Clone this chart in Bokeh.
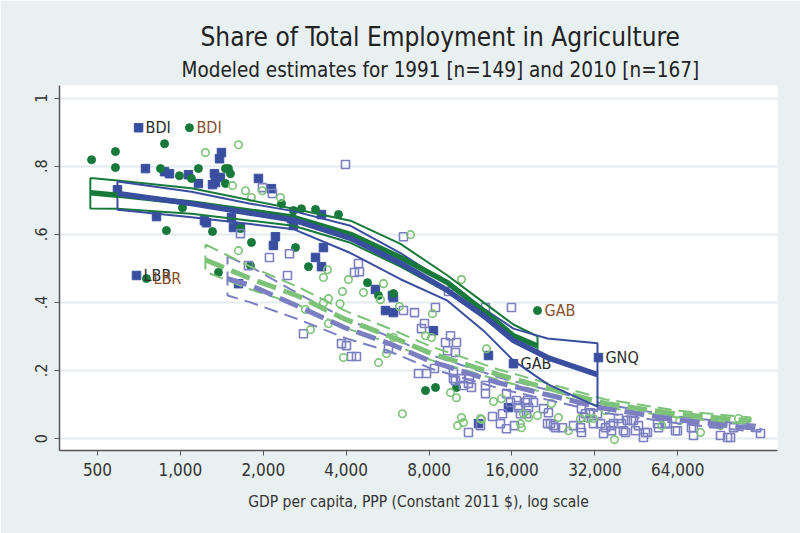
from bokeh.plotting import figure
from bokeh.models import (FixedTicker, NumeralTickFormatter, Title, CustomJSTickFormatter)
from bokeh.embed import file_html
from bokeh.resources import INLINE
from bokeh.core.properties import value

FONT = "DejaVu Sans Condensed, Liberation Sans, sans-serif"

# ---------------- data ----------------
# blue filled squares
ssa91_gdp = [705, 747, 876, 913, 1070, 1163, 1410, 1387, 1330, 1308, 1341, 1398, 591, 819, 1223,
             1533, 1559, 1244, 1653, 1921, 2141, 2214, 2177, 2531, 2574, 693, 3254, 3308, 3095, 3254,
             5109, 5889, 5939, 5556, 5939, 8299, 13143, 16200, 32970, 15537, 12091, 1626]
ssa91_share = [0.913, 0.793, 0.784, 0.778, 0.775, 0.749, 0.840, 0.822, 0.778, 0.746, 0.752, 0.767, 0.731,
               0.652, 0.640, 0.649, 0.620, 0.634, 0.620, 0.764, 0.734, 0.593, 0.567, 0.646, 0.626, 0.479,
               0.658, 0.561, 0.532, 0.505, 0.438, 0.420, 0.414, 0.376, 0.370, 0.317, 0.244, 0.220, 0.238,
               0.091, 0.044, 0.455]
# green filled circles
ssa10_gdp = [1079, 476, 581, 581, 876, 847, 992, 1163, 1097, 1458, 1495, 1520, 1458, 890, 1308, 1018,
             1653, 1812, 2329, 2574, 2618, 1375, 753, 1797, 2752, 3095, 3751, 2918, 4780, 5939, 5242,
             7763, 8439, 10060, 19804]
ssa10_share = [0.913, 0.819, 0.843, 0.796, 0.866, 0.793, 0.772, 0.793, 0.764, 0.793, 0.793, 0.778, 0.749,
               0.611, 0.608, 0.678, 0.617, 0.576, 0.690, 0.670, 0.561, 0.488, 0.470, 0.508, 0.675, 0.673,
               0.658, 0.505, 0.458, 0.426, 0.420, 0.141, 0.150, 0.150, 0.376]
# purple hollow squares
row91_gdp = [1986, 2159, 1653, 2106, 2448, 2490, 1767, 3977, 6458, 4432, 4287, 4469, 2799, 3846, 4010,
             4181, 4359, 5697, 7697, 7507, 9176, 9566, 10060, 9973, 7322, 7828, 8369, 9973, 10666, 11402,
             11120, 9808, 12818, 12818, 15279, 15798, 16612, 17913, 18366, 16892, 18062, 13593, 14775,
             14530, 15279, 16335, 15929, 12818, 6458, 7082, 8439, 9408, 9330, 10403, 9808, 11213, 11120,
             12295, 16892, 18212, 17178, 19150, 21530, 22638, 24400, 26760, 28370, 29090, 30840, 32700,
             31620, 33540, 36460, 37380, 40640, 42020, 44190, 46070, 49660, 48030, 54010, 58730, 63830,
             72970, 72970, 91450, 97010, 127800, 86290, 102000, 20822, 21710, 22076, 23018, 28610, 34970,
             36770, 34390, 38980, 39970, 43460, 41330, 44930, 48830, 54460, 57760, 62780, 71760, 99460,
             28610, 29580]
row91_share = [0.737, 0.720, 0.602, 0.532, 0.479, 0.543, 0.508, 0.805, 0.593, 0.514, 0.488, 0.490, 0.308,
               0.279, 0.273, 0.241, 0.241, 0.264, 0.338, 0.323, 0.282, 0.302, 0.282, 0.253, 0.191, 0.191,
               0.206, 0.170, 0.156, 0.150, 0.162, 0.194, 0.156, 0.132, 0.132, 0.106, 0.112, 0.106, 0.091,
               0.091, 0.073, 0.065, 0.073, 0.044, 0.029, 0.038, 0.385, 0.385, 0.376, 0.370, 0.385, 0.432,
               0.258, 0.176, 0.176, 0.176, 0.018, 0.038, 0.097, 0.112, 0.073, 0.106, 0.044, 0.038, 0.032,
               0.038, 0.032, 0.062, 0.076, 0.073, 0.044, 0.044, 0.038, 0.044, 0.023, 0.053, 0.053, 0.038,
               0.018, 0.003, 0.044, 0.044, 0.023, 0.032, 0.009, 0.009, 0.003, 0.015, 0.044, 0.032, 0.088,
               0.076, 0.044, 0.032, 0.018, 0.032, 0.023, 0.015, 0.059, 0.044, 0.053, 0.018, 0.023, 0.018,
               0.032, 0.044, 0.023, 0.032, 0.003, 0.088, 0.073]
# light green hollow circles
row10_gdp = [1626, 1233, 1546, 1723, 1812, 1986, 2309, 1626, 6850, 3421, 3308, 10490, 4077, 5465, 3878,
             4622, 5330, 6246, 8230, 2967, 3449, 2846, 3308, 3910, 5242, 5603, 5939, 8164, 12925, 7763,
             9566, 10060, 13708, 14652, 10490, 10666, 12398, 17323, 17616, 6404, 10145, 12295, 17178,
             18366, 19804, 28370, 31620, 37700, 77390, 22262, 23600, 25670, 30330, 34970, 106300, 3800,
             3449, 56000, 65000, 91450]
row10_share = [0.863, 0.840, 0.743, 0.728, 0.708, 0.728, 0.708, 0.552, 0.599, 0.496, 0.473, 0.467, 0.467,
               0.455, 0.432, 0.429, 0.408, 0.388, 0.367, 0.320, 0.338, 0.379, 0.399, 0.238, 0.223, 0.250,
               0.297, 0.297, 0.264, 0.302, 0.135, 0.120, 0.109, 0.117, 0.062, 0.047, 0.056, 0.032, 0.073,
               0.073, 0.038, 0.059, 0.044, 0.062, 0.068, 0.059, 0.059, -0.003, 0.018, 0.103, 0.062, 0.023,
               0.059, 0.082, 0.059, 0.396, 0.411, 0.038, 0.053, 0.038]

# labelled countries
lab_sq_gdp = [705, 693, 16200, 32970]
lab_sq_share = [0.913, 0.479, 0.220, 0.238]
lab_sq_text = ["BDI", "LBR", "GAB", "GNQ"]
lab_ci_gdp = [1079, 753, 19804]
lab_ci_share = [0.913, 0.470, 0.376]
lab_ci_text = ["BDI", "LBR", "GAB"]

# smoothed fits with confidence bands
fitA_x = [591, 1097, 1797, 2574, 4147, 6298, 9330, 12610, 16200, 21530, 32700]
fitA_y = [0.720, 0.690, 0.662, 0.642, 0.588, 0.515, 0.435, 0.361, 0.288, 0.238, 0.188]
fitA_hi = [0.755, 0.725, 0.690, 0.668, 0.625, 0.545, 0.455, 0.382, 0.323, 0.294, 0.280]
fitA_lo = [0.672, 0.650, 0.630, 0.615, 0.545, 0.468, 0.405, 0.317, 0.229, 0.160, 0.094]

fitB_x = [471, 591, 1097, 1797, 2574, 4147, 6298, 9330, 12610, 16200, 19804]
fitB_y = [0.722, 0.715, 0.692, 0.668, 0.650, 0.600, 0.532, 0.458, 0.375, 0.302, 0.272]
fitB_hi = [0.765, 0.758, 0.735, 0.700, 0.675, 0.640, 0.572, 0.479, 0.400, 0.335, 0.300]
fitB_lo = [0.676, 0.675, 0.660, 0.640, 0.625, 0.575, 0.505, 0.430, 0.355, 0.285, 0.255]

fitC_x = [1483, 1797, 2685, 3977, 5790, 8164, 14291, 19950, 34970, 63830, 106300, 127800]
fitC_y = [0.470, 0.450, 0.388, 0.325, 0.278, 0.226, 0.164, 0.135, 0.088, 0.055, 0.035, 0.030]
fitC_hi = [0.535, 0.505, 0.425, 0.352, 0.298, 0.245, 0.180, 0.150, 0.100, 0.065, 0.045, 0.040]
fitC_lo = [0.420, 0.400, 0.350, 0.295, 0.255, 0.205, 0.148, 0.120, 0.075, 0.045, 0.025, 0.020]

fitD_x = [1233, 1797, 2685, 3977, 5790, 8164, 14291, 19950, 34970, 63830, 117600]
fitD_y = [0.525, 0.470, 0.418, 0.350, 0.300, 0.250, 0.188, 0.155, 0.103, 0.072, 0.052]
fitD_hi = [0.570, 0.505, 0.445, 0.375, 0.322, 0.270, 0.203, 0.170, 0.115, 0.082, 0.062]
fitD_lo = [0.490, 0.438, 0.392, 0.325, 0.280, 0.230, 0.172, 0.140, 0.092, 0.062, 0.042]

x_ticks = [500, 1000, 2000, 4000, 8000, 16000, 32000, 64000]
y_ticks = [0, 0.2, 0.4, 0.6, 0.8, 1.0]

# ---------------- styling ----------------
BLUE = "#3a4ea0"
GREEN = "#17793a"
PURPLE = "#7b7fc2"
LGREEN = "#7cc377"
BG = "#e8f0f2"

p = figure(width=800, height=533, x_axis_type="log", x_range=(364, 147300), y_range=(-0.035, 1.037),
           output_backend="svg", toolbar_location=None,
           background_fill_color="white", border_fill_color=BG, outline_line_color=None,
           min_border_left=59, min_border_right=23, min_border_top=85, min_border_bottom=83)

p.xaxis.ticker = FixedTicker(ticks=x_ticks)
p.xaxis.formatter = NumeralTickFormatter(format="0,0")
p.yaxis.ticker = FixedTicker(ticks=y_ticks)
p.yaxis.formatter = CustomJSTickFormatter(
    code="if (tick == 0) return '0'; if (tick == 1) return '1'; return tick.toFixed(1).replace(/^0/, '');")
p.yaxis.major_label_orientation = "vertical"
for ax in (p.xaxis, p.yaxis):
    ax.axis_line_color = "#555555"
    ax.axis_line_width = 1.5
    ax.major_tick_line_color = "#555555"
    ax.major_tick_out = 5
    ax.major_tick_in = 0
    ax.minor_tick_line_color = None
    ax.major_label_text_font = FONT
    ax.major_label_text_color = "#333333"
p.xaxis.major_label_text_font_size = "17px"
p.yaxis.major_label_text_font_size = "16px"
p.xaxis.major_label_standoff = 7
p.yaxis.major_label_standoff = 7
p.xaxis.axis_label = "GDP per capita, PPP (Constant 2011 $), log scale"
p.xaxis.axis_label_text_font = FONT
p.xaxis.axis_label_text_font_size = "15.5px"
p.xaxis.axis_label_text_font_style = "normal"
p.xaxis.axis_label_text_color = "#333333"
p.xaxis.axis_label_standoff = 14

p.xgrid.visible = False
p.ygrid.ticker = FixedTicker(ticks=y_ticks)
p.ygrid.grid_line_color = "#e3ebee"
p.ygrid.grid_line_width = 2

# scatter
p.scatter(ssa91_gdp, ssa91_share, marker="square", size=8.5, fill_color=BLUE, line_color=BLUE)
p.scatter(ssa10_gdp, ssa10_share, marker="circle", size=8, fill_color=GREEN, line_color=GREEN)
p.scatter(row91_gdp, row91_share, marker="square", size=8, fill_color=None, line_color=PURPLE, line_width=1.6)
p.scatter(row10_gdp, row10_share, marker="circle", size=7.5, fill_color=None, line_color=LGREEN, line_width=1.6)

# labels
p.text(lab_sq_gdp, lab_sq_share, text=lab_sq_text, text_font=value(FONT), text_font_size="16px",
       text_color="#2b2b2b", text_baseline="middle", x_offset=7)
p.text(lab_ci_gdp, lab_ci_share, text=lab_ci_text, text_font=value(FONT), text_font_size="16px",
       text_color="#8a4f2e", text_baseline="middle", x_offset=7)


def band(xs, hi, lo):
    return list(xs) + list(reversed(xs)) + [xs[0]], list(hi) + list(reversed(lo)) + [hi[0]]


# dashed fits (others)
bx, by = band(fitC_x, fitC_hi, fitC_lo)
p.line(bx, by, line_color=PURPLE, line_width=2, line_dash="14 7")
bx, by = band(fitD_x, fitD_hi, fitD_lo)
p.line(bx, by, line_color=LGREEN, line_width=2, line_dash="14 7")
p.line(fitD_x, fitD_y, line_color=LGREEN, line_width=5, line_dash="20 8")
p.line(fitC_x, fitC_y, line_color=PURPLE, line_width=5, line_dash="20 8")

# solid fits
bx, by = band(fitB_x, fitB_hi, fitB_lo)
p.line(bx, by, line_color=GREEN, line_width=2)
bx, by = band(fitA_x, fitA_hi, fitA_lo)
p.line(bx, by, line_color=BLUE, line_width=2)
p.line(fitB_x, fitB_y, line_color=GREEN, line_width=5.5)
p.line(fitA_x, fitA_y, line_color=BLUE, line_width=5.5)

# titles (subtitle added first so that it sits nearest the plot)
p.add_layout(Title(text="Modeled estimates for 1991 [n=149] and 2010 [n=167]", align="left",
                   offset=122, standoff=7, text_font=FONT, text_font_size="20.5px",
                   text_font_style="normal", text_color="#222222"), "above")
p.add_layout(Title(text="Share of Total Employment in Agriculture", align="left",
                   offset=141, standoff=2, text_font=FONT, text_font_size="26px",
                   text_font_style="normal", text_color="#222222"), "above")

open("out.html", "w").write(file_html(p, INLINE))
